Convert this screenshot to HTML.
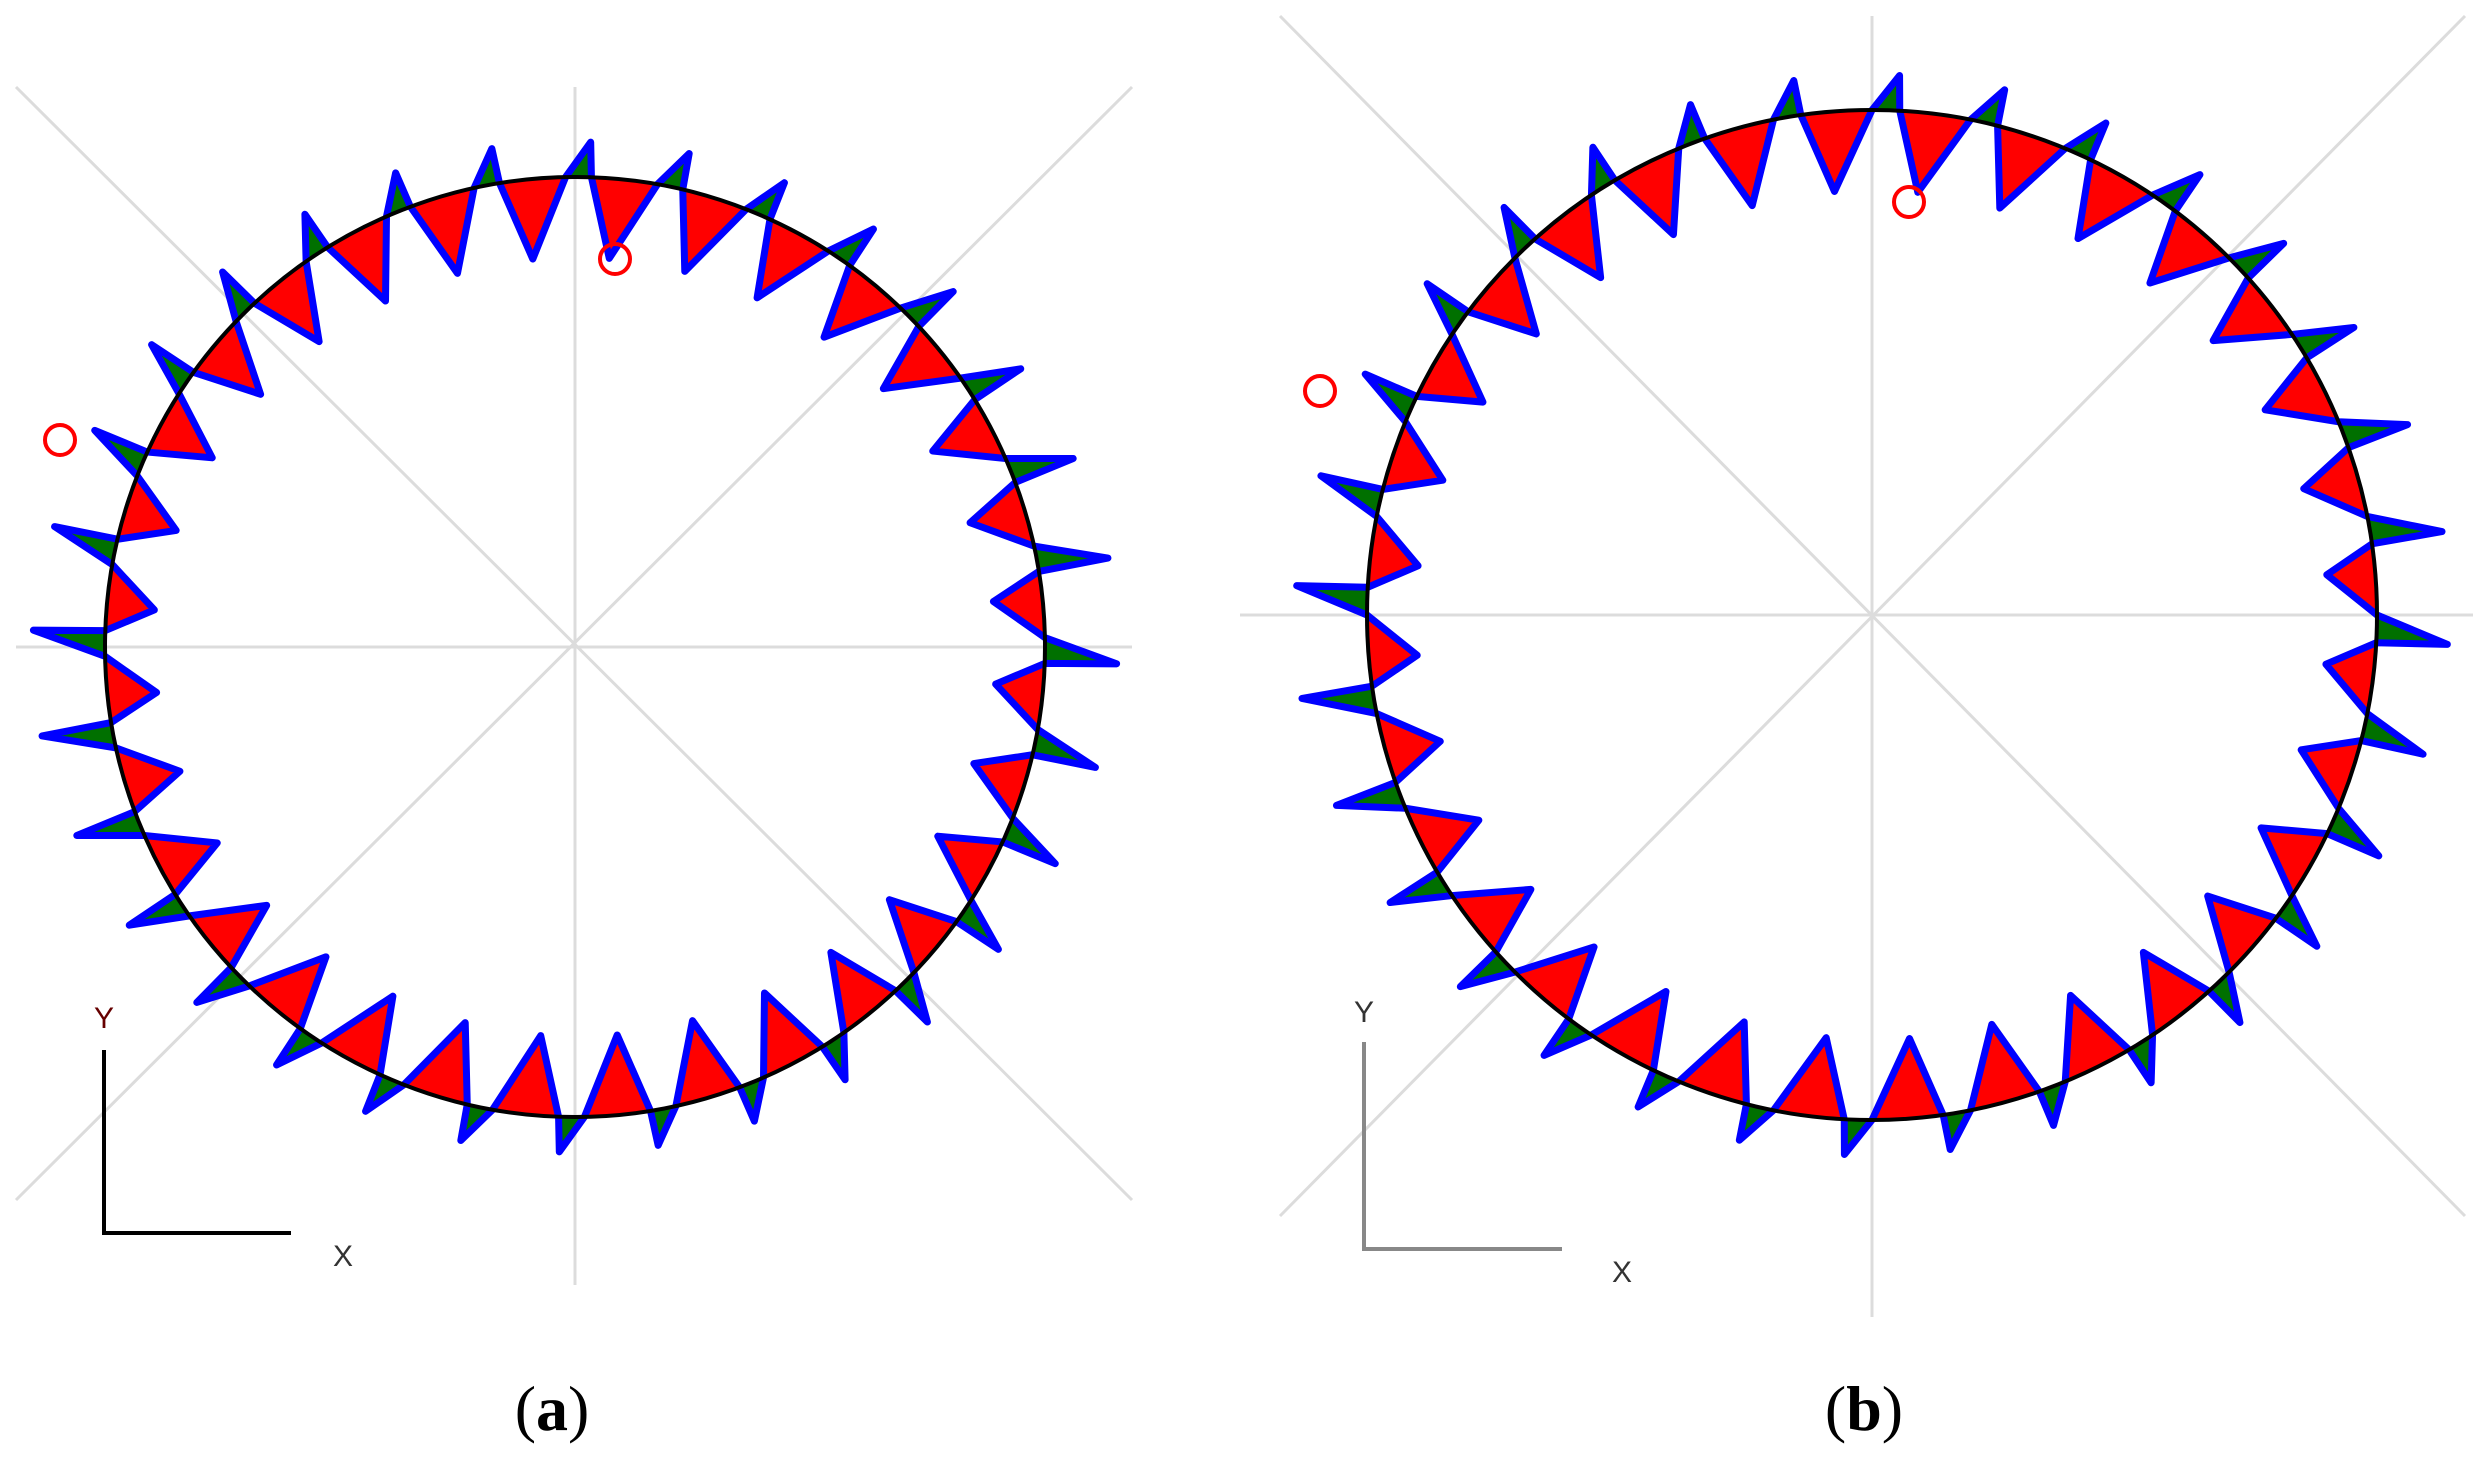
<!DOCTYPE html>
<html><head><meta charset="utf-8"><style>
html,body{margin:0;padding:0;background:#fff;width:2481px;height:1457px;overflow:hidden}
svg{display:block}
</style></head><body>
<svg id="s" width="2481" height="1457" viewBox="0 0 2481 1457" xmlns="http://www.w3.org/2000/svg">
<g stroke="#dcdcdc" stroke-width="3">
<line x1="575" y1="87" x2="575" y2="1285"/><line x1="16" y1="647" x2="1132" y2="647"/>
<line x1="16" y1="87" x2="1132" y2="1200"/><line x1="1132" y1="87" x2="16" y2="1200"/>
<line x1="1872" y1="16" x2="1872" y2="1317"/><line x1="1240" y1="615" x2="2473" y2="615"/>
<line x1="1280" y1="16" x2="2465" y2="1216"/><line x1="2465" y1="16" x2="1280" y2="1216"/>
</g>
<g id="a"></g><g id="b"></g>
<g fill="none" stroke="#f00" stroke-width="4">
<circle cx="615" cy="259" r="15"/><circle cx="60" cy="440" r="15"/>
<circle cx="1909" cy="202" r="15"/><circle cx="1320" cy="391" r="15"/>
</g>
<g fill="none" stroke-width="4">
<polyline points="104,1050 104,1233 291,1233" stroke="#000"/>
<polyline points="1364,1042 1364,1249 1562,1249" stroke="#888"/>
</g>
<g font-family="Liberation Sans, sans-serif" font-size="30" fill="#333">
<text x="94" y="1028" fill="#600">Y</text><text x="333" y="1266">X</text>
<text x="1354" y="1022">Y</text><text x="1612" y="1282">X</text>
</g>
<g font-family="Liberation Serif, serif" font-size="64" text-anchor="middle">
<text x="552" y="1430">(<tspan font-weight="bold">a</tspan>)</text>
<text x="1864" y="1430">(<tspan font-weight="bold">b</tspan>)</text>
</g>
</svg>
<script>
function draw(id,cx,cy,R,N,off){
 var g=document.getElementById(id),h="",blue="";
 function P(t,r){return [cx+r*Math.cos(t),cy-r*Math.sin(t)];}
 var w=2*Math.PI/N;
 for(var i=0;i<N;i++){
  var t0=off+i*w,s=Math.abs(Math.sin(t0+0.5*w));
  var dr=45+35*s, gr=75-40*s;
  var a=P(t0,R),ap=P(t0+0.45*w,R-dr),b=P(t0+0.72*w,R),gp=P(t0+0.74*w,R+gr),c=P(t0+w,R);
  h+='<path d="M'+a+' L'+ap+' L'+b+' Z" fill="#f00"/>';
  h+='<path d="M'+b+' L'+gp+' L'+c+' Z" fill="#007000"/>';
  blue+=(i?' L':'M')+a+' L'+ap+' L'+b+' L'+gp;
 }
 blue+=' Z';
 h+='<path d="'+blue+'" fill="none" stroke="#0000ff" stroke-width="7" stroke-linejoin="round"/>';
 h+='<circle cx="'+cx+'" cy="'+cy+'" r="'+R+'" fill="none" stroke="#000" stroke-width="4"/>';
 g.innerHTML=h;
}
draw("a",575,647,470,32,0.02);
draw("b",1872,615,505,32,0.0);
</script>
</body></html>
